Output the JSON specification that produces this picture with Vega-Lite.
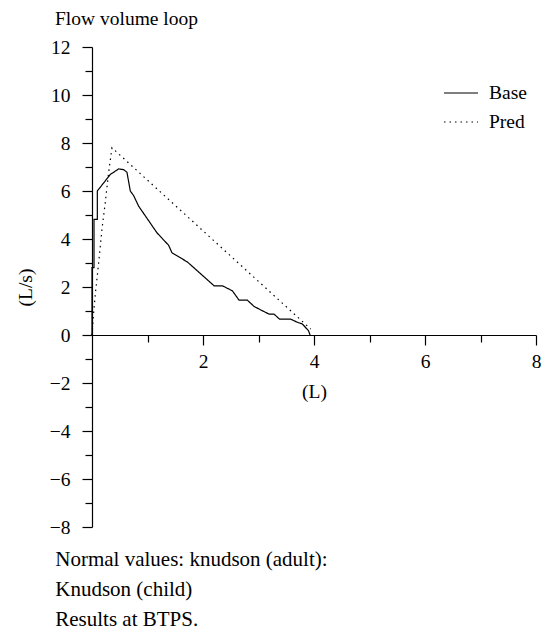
{
  "$schema": "https://vega.github.io/schema/vega-lite/v6.json",
  "background": "white",
  "padding": {"left": 15, "top": 8, "right": 5, "bottom": 3},
  "config": {
    "font": "Liberation Serif",
    "view": {"stroke": null},
    "concat": {"spacing": 0},
    "axis": {"domainColor": "black", "tickColor": "black", "labelColor": "black", "titleColor": "black", "labelFontSize": 19.5, "titleFontSize": 19.5, "titleFontWeight": "normal", "labelFont": "Liberation Serif", "titleFont": "Liberation Serif", "grid": false, "domainWidth": 1.2, "tickWidth": 1.2}
  },
  "title": {
    "text": ["Normal values: knudson (adult):", "Knudson (child)", "Results at BTPS."],
    "orient": "bottom",
    "anchor": "start",
    "fontSize": 21,
    "fontWeight": "normal",
    "font": "Liberation Serif",
    "color": "black",
    "lineHeight": 30,
    "offset": 12,
    "dx": 40
  },
  "vconcat": [
    {
      "width": 444,
      "height": 480,
      "title": {"text": "Flow volume loop", "anchor": "start", "frame": "group", "dx": -37, "fontSize": 19.5, "fontWeight": "normal", "font": "Liberation Serif", "color": "black", "offset": 8},
      "data": {"values": [
        {"series": "Base", "i": 0, "v": 0, "f": 0},
        {"series": "Base", "i": 1, "v": 0, "f": 2.81},
        {"series": "Base", "i": 2, "v": 0.036, "f": 2.81},
        {"series": "Base", "i": 3, "v": 0.036, "f": 4.82},
        {"series": "Base", "i": 4, "v": 0.096, "f": 4.82},
        {"series": "Base", "i": 5, "v": 0.096, "f": 6.0},
        {"series": "Base", "i": 6, "v": 0.33, "f": 6.69},
        {"series": "Base", "i": 7, "v": 0.48, "f": 6.92},
        {"series": "Base", "i": 8, "v": 0.57, "f": 6.89},
        {"series": "Base", "i": 9, "v": 0.63, "f": 6.78},
        {"series": "Base", "i": 10, "v": 0.69, "f": 6.0},
        {"series": "Base", "i": 11, "v": 0.75, "f": 5.81},
        {"series": "Base", "i": 12, "v": 0.84, "f": 5.37},
        {"series": "Base", "i": 13, "v": 1.17, "f": 4.26},
        {"series": "Base", "i": 14, "v": 1.38, "f": 3.74},
        {"series": "Base", "i": 15, "v": 1.44, "f": 3.43},
        {"series": "Base", "i": 16, "v": 1.72, "f": 3.04},
        {"series": "Base", "i": 17, "v": 2.2, "f": 2.05},
        {"series": "Base", "i": 18, "v": 2.35, "f": 2.05},
        {"series": "Base", "i": 19, "v": 2.53, "f": 1.84},
        {"series": "Base", "i": 20, "v": 2.65, "f": 1.45},
        {"series": "Base", "i": 21, "v": 2.8, "f": 1.45},
        {"series": "Base", "i": 22, "v": 2.92, "f": 1.19},
        {"series": "Base", "i": 23, "v": 3.07, "f": 1.01},
        {"series": "Base", "i": 24, "v": 3.19, "f": 0.87},
        {"series": "Base", "i": 25, "v": 3.28, "f": 0.87},
        {"series": "Base", "i": 26, "v": 3.38, "f": 0.66},
        {"series": "Base", "i": 27, "v": 3.58, "f": 0.66},
        {"series": "Base", "i": 28, "v": 3.7, "f": 0.53},
        {"series": "Base", "i": 29, "v": 3.79, "f": 0.46},
        {"series": "Base", "i": 30, "v": 3.9, "f": 0.18},
        {"series": "Base", "i": 31, "v": 3.93, "f": 0},
        {"series": "Pred", "i": 0, "v": 0, "f": 0},
        {"series": "Pred", "i": 1, "v": 0.03, "f": 0.95},
        {"series": "Pred", "i": 2, "v": 0.063, "f": 1.78},
        {"series": "Pred", "i": 3, "v": 0.12, "f": 3.0},
        {"series": "Pred", "i": 4, "v": 0.18, "f": 4.42},
        {"series": "Pred", "i": 5, "v": 0.24, "f": 5.53},
        {"series": "Pred", "i": 6, "v": 0.3, "f": 6.78},
        {"series": "Pred", "i": 7, "v": 0.36, "f": 7.8},
        {"series": "Pred", "i": 8, "v": 3.94, "f": 0.25}
      ]},
      "mark": {"type": "line", "color": "black", "strokeWidth": 1.2, "clip": false},
      "encoding": {
        "x": {
          "field": "v", "type": "quantitative",
          "scale": {"domain": [0, 8], "nice": false, "zero": false},
          "axis": {
            "values": [1, 2, 3, 4, 5, 6, 7, 8],
            "labelExpr": "datum.value % 2 === 0 ? datum.label : ''",
            "labelFlush": false,
            "tickSize": {"condition": {"test": "datum.value % 2 === 0", "value": 10}, "value": 7},
            "offset": -192,
            "labelPadding": 7,
            "title": "(L)",
            "titlePadding": 12
          }
        },
        "y": {
          "field": "f", "type": "quantitative",
          "scale": {"domain": [-8, 12], "nice": false, "zero": false},
          "axis": {
            "values": [-8, -7, -6, -5, -4, -3, -2, -1, 0, 1, 2, 3, 4, 5, 6, 7, 8, 9, 10, 11, 12],
            "labelExpr": "datum.value % 2 === 0 ? replace(datum.label, '-', '\u2212') : ''",
            "labelFlush": false,
            "tickSize": {"condition": {"test": "datum.value % 2 === 0", "value": 10}, "value": 7},
            "labelPadding": 12,
            "title": "(L/s)",
            "titlePadding": 14
          }
        },
        "strokeDash": {
          "field": "series", "type": "nominal",
          "scale": {"domain": ["Base", "Pred"], "range": [[1, 0], [1.5, 4]]},
          "legend": {
            "title": null,
            "orient": "none",
            "legendX": 351,
            "legendY": 28,
            "symbolType": "stroke",
            "symbolSize": 1156,
            "symbolStrokeWidth": 1.2,
            "symbolStrokeColor": "black",
            "labelFontSize": 19.5,
            "labelFont": "Liberation Serif",
            "labelColor": "black",
            "labelOffset": 10,
            "rowPadding": 1,
            "padding": 0
          }
        },
        "order": {"field": "i", "type": "quantitative"}
      }
    }
  ]
}
